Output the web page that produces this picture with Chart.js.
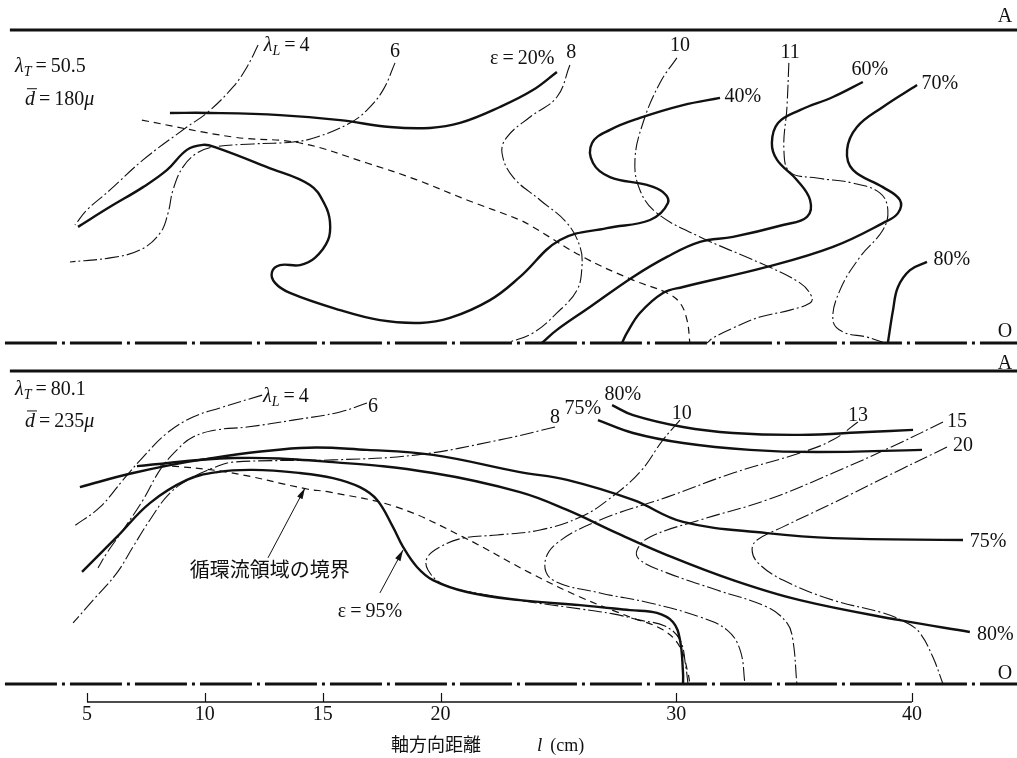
<!DOCTYPE html>
<html>
<head>
<meta charset="utf-8">
<script src="https://cdn.jsdelivr.net/npm/chart.js@4.4.1/dist/chart.umd.min.js"></script>
<style>
  html, body { margin: 0; padding: 0; background: #fff; }
  #wrap { width: 1017px; height: 758px; }
</style>
</head>
<body>
<div id="wrap"><canvas id="c" width="1017" height="758"></canvas></div>
<script>
// Contours in a tube section: x = axial distance l (cm), y = r/R (0 = axis O, 1 = wall A)

const xTicks = [5, 10, 15, 20, 30, 40];

// ---- upper section: lambda_T = 50.5, d = 180 micron ----
const topLam4 = [[12.26,0.952],[11.79,0.882],[11.20,0.818],[10.09,0.735],[9.24,0.690],[7.38,0.585],[5.98,0.489],[5.00,0.425],[4.49,0.377]];
const topLam6 = [[18.07,0.895],[17.56,0.808],[16.88,0.744],[16.16,0.703],[14.76,0.658],[13.74,0.642],[12.04,0.636],[10.35,0.626],[9.67,0.607],[9.07,0.562],[8.65,0.489],[8.44,0.415],[8.10,0.351],[7.25,0.297],[5.98,0.272],[4.28,0.259]];
const topLam8 = [[25.49,0.888],[24.94,0.786],[23.80,0.722],[22.82,0.658],[22.61,0.607],[23.08,0.530],[24.22,0.457],[25.37,0.383],[25.92,0.307],[26.00,0.243],[25.79,0.169],[24.94,0.096],[23.92,0.032],[22.82,0.000]];
const topLam10 = [[30.03,0.911],[29.31,0.831],[28.59,0.703],[28.25,0.585],[28.46,0.489],[29.18,0.415],[31.01,0.339],[33.55,0.256],[35.25,0.192],[35.76,0.147],[35.68,0.128],[34.83,0.105],[33.55,0.083],[32.41,0.048],[31.56,0.016],[31.31,0.000]];
const topLam11 = [[34.78,0.895],[34.70,0.754],[34.57,0.617],[34.83,0.546],[35.97,0.527],[37.50,0.511],[38.65,0.479],[38.98,0.425],[38.77,0.361],[37.80,0.275],[36.95,0.169],[36.65,0.073],[37.08,0.035],[38.09,0.019],[38.86,0.000]];
const topEps20 = [[8.52,0.735],[10.22,0.735],[13.19,0.728],[15.74,0.712],[17.86,0.690],[19.55,0.687],[20.83,0.703],[22.52,0.754],[23.92,0.808],[24.94,0.866]];
const topEps40 = [[4.62,0.371],[5.98,0.435],[7.38,0.498],[8.40,0.553],[9.24,0.617],[9.92,0.633],[10.43,0.626],[12.64,0.562],[14.46,0.505],[15.10,0.441],[15.31,0.387],[15.23,0.329],[14.67,0.272],[14.04,0.249],[13.19,0.249],[12.85,0.227],[12.98,0.192],[13.61,0.160],[15.74,0.105],[17.43,0.073],[19.13,0.064],[20.40,0.080],[22.10,0.137],[23.37,0.211],[25.07,0.329],[27.06,0.367],[28.89,0.393],[29.65,0.447],[29.44,0.482],[28.76,0.505],[27.19,0.530],[26.47,0.575],[26.43,0.639],[27.19,0.681],[28.46,0.719],[30.29,0.760],[31.86,0.783]];
const topEps60 = [[37.92,0.834],[36.65,0.786],[35.25,0.744],[34.32,0.703],[34.06,0.639],[34.28,0.585],[35.12,0.521],[35.68,0.457],[35.55,0.403],[34.53,0.377],[32.41,0.339],[31.01,0.323],[29.61,0.275],[28.17,0.211],[26.34,0.115],[24.94,0.042],[24.30,0.000]];
const topEps70 = [[40.22,0.824],[38.77,0.754],[37.67,0.690],[37.25,0.617],[37.50,0.553],[38.77,0.498],[39.49,0.457],[39.41,0.415],[38.77,0.383],[36.65,0.307],[33.85,0.243],[30.29,0.179],[29.44,0.160],[28.46,0.096],[27.91,0.032],[27.70,0.000]];
const topEps80 = [[40.64,0.259],[39.92,0.233],[39.41,0.179],[39.20,0.105],[38.98,0.000]];
const topBoundary = [[7.33,0.712],[11.20,0.658],[14.04,0.639],[16.88,0.575],[19.00,0.521],[21.12,0.457],[23.37,0.393],[23.92,0.371],[26.04,0.275],[28.17,0.201],[29.61,0.160],[30.16,0.128],[30.46,0.073],[30.58,0.000]];

// ---- lower section: lambda_T = 80.1, d = 235 micron ----
const botLam4 = [[12.43,0.923],[10.64,0.882],[9.50,0.853],[8.40,0.802],[7.38,0.725],[6.53,0.652],[5.55,0.565],[4.41,0.502]];
const botLam6 = [[16.88,0.898],[15.74,0.869],[13.74,0.843],[11.79,0.821],[10.52,0.812],[9.50,0.789],[8.82,0.748],[8.10,0.684],[7.38,0.588],[6.53,0.492],[5.85,0.419],[5.47,0.371]];
const botLam8 = [[24.86,0.821],[22.52,0.780],[19.00,0.732],[15.44,0.716],[11.20,0.709],[10.35,0.690],[9.50,0.661],[8.52,0.610],[7.67,0.524],[6.95,0.438],[6.27,0.355],[5.26,0.268],[4.41,0.195]];
const botLam10 = [[30.16,0.843],[29.44,0.780],[28.46,0.677],[27.10,0.588],[25.96,0.534],[24.22,0.492],[22.40,0.476],[20.95,0.466],[19.98,0.438],[19.43,0.403],[19.47,0.364],[20.11,0.319],[21.67,0.288],[23.80,0.262],[25.92,0.240],[27.32,0.224],[28.46,0.204],[29.52,0.185],[30.16,0.141],[30.41,0.054],[30.50,0.000]];
const botLam13 = [[37.71,0.837],[36.65,0.780],[35.25,0.738],[32.41,0.674],[29.61,0.597],[26.77,0.524],[24.94,0.450],[24.43,0.387],[24.77,0.332],[26.77,0.291],[28.89,0.259],[31.01,0.214],[32.15,0.173],[32.71,0.109],[32.92,0.000]];
const botLam15 = [[41.32,0.837],[39.49,0.770],[36.65,0.674],[33.85,0.588],[31.01,0.524],[28.89,0.470],[28.34,0.428],[28.46,0.396],[29.61,0.355],[31.73,0.300],[33.85,0.246],[34.70,0.195],[34.95,0.141],[35.12,0.000]];
const botLam20 = [[41.49,0.757],[39.49,0.684],[36.65,0.578],[34.53,0.502],[33.43,0.460],[33.22,0.428],[33.47,0.387],[34.53,0.332],[36.65,0.268],[38.77,0.227],[39.79,0.195],[40.34,0.163],[40.89,0.086],[41.32,0.000]];
const botEps75Upper = [[26.68,0.843],[28.17,0.802],[30.29,0.770],[33.13,0.748],[35.97,0.741],[40.43,0.748]];
const botEps80Upper = [[27.28,0.891],[28.17,0.859],[30.29,0.821],[32.41,0.802],[35.25,0.796],[38.09,0.805],[40.05,0.812]];
const botEps75 = [[4.70,0.629],[6.95,0.674],[9.80,0.716],[14.04,0.754],[16.88,0.748],[19.68,0.732],[23.37,0.677],[25.37,0.652],[28.17,0.588],[30.29,0.518],[33.85,0.482],[36.65,0.466],[42.17,0.460]];
const botEps80 = [[7.12,0.696],[11.20,0.722],[15.44,0.709],[19.68,0.674],[23.37,0.613],[25.37,0.556],[27.49,0.482],[29.61,0.412],[32.41,0.332],[35.25,0.268],[39.49,0.204],[42.46,0.166]];
const botEps95 = [[4.79,0.358],[6.27,0.470],[7.67,0.578],[9.24,0.652],[10.52,0.677],[12.04,0.684],[14.04,0.674],[15.44,0.658],[16.58,0.629],[17.31,0.588],[17.98,0.502],[18.41,0.438],[19.00,0.374],[19.68,0.332],[21.12,0.294],[23.37,0.268],[25.92,0.252],[28.04,0.236],[29.18,0.227],[29.86,0.198],[30.16,0.141],[30.29,0.035],[30.29,0.000]];
const botBoundary = [[8.10,0.700],[10.94,0.677],[14.34,0.623],[15.31,0.613],[18.15,0.565],[20.95,0.470],[23.80,0.355],[25.92,0.278],[28.04,0.214],[29.44,0.173],[30.16,0.118],[30.50,0.035],[30.58,0.000]];
const arrowBoundary = [[12.68,0.403],[14.25,0.626]];
const arrowEps95 = [[17.43,0.291],[18.41,0.428]];

// tube wall (A) and centre line (O) span along l
const wallSpan = [1.73, 44.46];
const axisSpan = [1.52, 44.46];

// ---- layout ----
const X_MIN = 1.31, X_MAX = 44.46;
const CHART_BOTTOM = 702;     // px, x-axis line
const PANEL_H = 313;          // px for r/R = 0..1
const TOP_WALL_PX = 30, BOT_WALL_PX = 371;
const ytMax = 1 + TOP_WALL_PX / PANEL_H;
const ybMax = 1 + BOT_WALL_PX / PANEL_H;
const ySpan = CHART_BOTTOM / PANEL_H;

const INK = '#111';
const STYLE = {
  eps:   { borderWidth: 2.4, borderDash: [] },
  lam:   { borderWidth: 1.1, borderDash: [14, 3, 2, 3] },
  bnd:   { borderWidth: 1.2, borderDash: [7, 5] },
  wall:  { borderWidth: 3.2, borderDash: [] },
  axis:  { borderWidth: 3,   borderDash: [52, 5, 3, 5] },
  arrow: { borderWidth: 1,   borderDash: [] }
};

function series(points, yAxisID, kind) {
  const straight = kind === 'wall' || kind === 'axis' || kind === 'arrow';
  return Object.assign({
    data: points.map(([x, y]) => ({ x, y })),
    yAxisID,
    showLine: true,
    borderColor: INK,
    backgroundColor: INK,
    pointRadius: 0,
    fill: false,
    clip: false,
    tension: straight ? 0 : 0.4
  }, STYLE[kind]);
}

const datasets = [
  series([[wallSpan[0], 1], [wallSpan[1], 1]], 'yt', 'wall'),
  series([[axisSpan[0], 0], [axisSpan[1], 0]], 'yt', 'axis'),
  series([[wallSpan[0], 1], [wallSpan[1], 1]], 'yb', 'wall'),
  series([[axisSpan[0], 0], [axisSpan[1], 0]], 'yb', 'axis'),

  series(topLam4, 'yt', 'lam'), series(topLam6, 'yt', 'lam'), series(topLam8, 'yt', 'lam'),
  series(topLam10, 'yt', 'lam'), series(topLam11, 'yt', 'lam'),
  series(topEps20, 'yt', 'eps'), series(topEps40, 'yt', 'eps'), series(topEps60, 'yt', 'eps'),
  series(topEps70, 'yt', 'eps'), series(topEps80, 'yt', 'eps'),
  series(topBoundary, 'yt', 'bnd'),

  series(botLam4, 'yb', 'lam'), series(botLam6, 'yb', 'lam'), series(botLam8, 'yb', 'lam'),
  series(botLam10, 'yb', 'lam'), series(botLam13, 'yb', 'lam'), series(botLam15, 'yb', 'lam'),
  series(botLam20, 'yb', 'lam'),
  series(botEps75Upper, 'yb', 'eps'), series(botEps80Upper, 'yb', 'eps'),
  series(botEps75, 'yb', 'eps'), series(botEps80, 'yb', 'eps'), series(botEps95, 'yb', 'eps'),
  series(botBoundary, 'yb', 'bnd'),
  series(arrowBoundary, 'yb', 'arrow'), series(arrowEps95, 'yb', 'arrow')
];

// ---- text annotations: [markup, l, r/R, align] ; *x* italic, _x_ subscript, ~x~ overbar ----
const topLabels = [
  ['*λ*_T_\u2009=\u200950.5', 1.95, 0.888, 'left'],
  ['~d~\u2009=\u2009180*μ*', 2.37, 0.783, 'left'],
  ['*λ*_L_\u2009=\u20094', 12.50, 0.955, 'left'],
  ['6', 18.07, 0.936, 'center'],
  ['ε\u2009=\u200920%', 22.10, 0.914, 'left'],
  ['8', 25.55, 0.932, 'center'],
  ['10', 30.16, 0.955, 'center'],
  ['11', 34.83, 0.932, 'center'],
  ['40%', 32.83, 0.792, 'center'],
  ['60%', 38.22, 0.879, 'center'],
  ['70%', 41.19, 0.834, 'center'],
  ['80%', 41.70, 0.272, 'center'],
  ['A', 43.95, 1.048, 'center'],
  ['O', 43.95, 0.042, 'center']
];
const botLabels = [
  ['*λ*_T_\u2009=\u200980.1', 1.95, 0.946, 'left'],
  ['~d~\u2009=\u2009235*μ*', 2.37, 0.843, 'left'],
  ['*λ*_L_\u2009=\u20094', 12.47, 0.923, 'left'],
  ['6', 17.14, 0.891, 'center'],
  ['8', 24.86, 0.856, 'center'],
  ['75%', 26.04, 0.885, 'center'],
  ['80%', 27.74, 0.930, 'center'],
  ['10', 30.24, 0.869, 'center'],
  ['13', 37.71, 0.863, 'center'],
  ['15', 41.91, 0.843, 'center'],
  ['20', 42.17, 0.767, 'center'],
  ['75%', 42.46, 0.460, 'left'],
  ['80%', 42.76, 0.163, 'left'],
  ['ε\u2009=\u200995%', 17.01, 0.236, 'center'],
  ['A', 43.95, 1.029, 'center'],
  ['O', 43.95, 0.038, 'center']
];
const cjkLabels = [
  ['循環流領域の境界', 12.76, 0.364, 'center']
];
const arrows = [arrowBoundary, arrowEps95];
const axisTitle = { x: 22.0, parts: ['軸方向距離', 'l', '(cm)'] };

const SERIF = '"Liberation Serif","DejaVu Serif",serif';
const CJK = '"Noto Sans CJK JP","Noto Sans CJK SC",sans-serif';
const FONT_SIZE = 20;

function parseRich(str) {
  const out = [];
  str.split(/(\*[^*]+\*|_[^_]+_|~[^~]+~)/).forEach(p => {
    if (!p) return;
    const m = p[0];
    if (m === '*') out.push({ s: p.slice(1, -1), it: true });
    else if (m === '_') out.push({ s: p.slice(1, -1), it: true, sub: true });
    else if (m === '~') out.push({ s: p.slice(1, -1), it: true, bar: true });
    else out.push({ s: p });
  });
  return out;
}

function drawRich(ctx, segs, px, py, align, size) {
  const fontOf = sg => (sg.it ? 'italic ' : '') + (sg.sub ? Math.round(size * 0.68) : (sg.size || size)) + 'px ' + (sg.cjk ? CJK : SERIF);
  let total = 0;
  segs.forEach(sg => {
    ctx.font = fontOf(sg);
    sg.w = (sg.gap || 0) + ctx.measureText(sg.s).width;
    total += sg.w;
  });
  let cx = align === 'center' ? px - total / 2 : align === 'right' ? px - total : px;
  const base = py + size * 0.34;
  ctx.textBaseline = 'alphabetic';
  ctx.textAlign = 'left';
  segs.forEach(sg => {
    ctx.font = fontOf(sg);
    const x0 = cx + (sg.gap || 0);
    const by = sg.sub ? base + size * 0.2 : base;
    ctx.fillText(sg.s, x0, by);
    if (sg.bar) {
      const w = ctx.measureText(sg.s).width;
      ctx.beginPath();
      ctx.lineWidth = 1;
      ctx.moveTo(x0 + 2, base - size * 0.8);
      ctx.lineTo(x0 + w + 2, base - size * 0.8);
      ctx.stroke();
    }
    cx += sg.w;
  });
}

const annotate = {
  id: 'annotate',
  afterDatasetsDraw(chart) {
    const { ctx, scales } = chart;
    const xs = scales.x;
    ctx.save();
    ctx.fillStyle = INK;
    ctx.strokeStyle = INK;

    // x axis line 5..40 with upward tick marks
    const yAx = chart.chartArea.bottom;
    ctx.lineWidth = 1.6;
    ctx.beginPath();
    ctx.moveTo(xs.getPixelForValue(xTicks[0]), yAx);
    ctx.lineTo(xs.getPixelForValue(xTicks[xTicks.length - 1]), yAx);
    ctx.stroke();
    ctx.lineWidth = 1.2;
    xTicks.forEach(v => {
      const p = Math.round(xs.getPixelForValue(v)) + 0.5;
      ctx.beginPath();
      ctx.moveTo(p, yAx);
      ctx.lineTo(p, yAx - 9);
      ctx.stroke();
    });

    // arrowheads
    arrows.forEach(a => {
      const [x0, y0] = a[0], [x1, y1] = a[1];
      const p0 = { x: xs.getPixelForValue(x0), y: scales.yb.getPixelForValue(y0) };
      const p1 = { x: xs.getPixelForValue(x1), y: scales.yb.getPixelForValue(y1) };
      const ang = Math.atan2(p1.y - p0.y, p1.x - p0.x);
      ctx.beginPath();
      ctx.moveTo(p1.x, p1.y);
      ctx.lineTo(p1.x - 11 * Math.cos(ang) + 3 * Math.sin(ang), p1.y - 11 * Math.sin(ang) - 3 * Math.cos(ang));
      ctx.lineTo(p1.x - 11 * Math.cos(ang) - 3 * Math.sin(ang), p1.y - 11 * Math.sin(ang) + 3 * Math.cos(ang));
      ctx.closePath();
      ctx.fill();
    });

    // labels
    const put = (list, ys, cjk) => list.forEach(([txt, x, y, align]) => {
      const segs = cjk ? [{ s: txt, cjk: true }] : parseRich(txt);
      drawRich(ctx, segs, xs.getPixelForValue(x), ys.getPixelForValue(y), align, FONT_SIZE);
    });
    put(topLabels, scales.yt, false);
    put(botLabels, scales.yb, false);
    put(cjkLabels, scales.yb, true);

    // axis title
    drawRich(ctx, [
      { s: axisTitle.parts[0], cjk: true, size: 18 },
      { s: axisTitle.parts[1], it: true, gap: 56 },
      { s: axisTitle.parts[2], gap: 8, size: 18 }
    ], xs.getPixelForValue(axisTitle.x), yAx + 43, 'center', 19);

    ctx.restore();
  }
};

new Chart(document.getElementById('c'), {
  type: 'scatter',
  data: { datasets },
  options: {
    responsive: false,
    animation: false,
    events: [],
    layout: { padding: 0 },
    plugins: { legend: { display: false }, tooltip: { enabled: false } },
    scales: {
      x: {
        type: 'linear',
        min: X_MIN,
        max: X_MAX,
        afterBuildTicks: s => { s.ticks = xTicks.map(v => ({ value: v })); },
        afterFit: s => { s.height = 758 - CHART_BOTTOM; },
        grid: { display: false, drawTicks: false },
        border: { display: false },
        ticks: {
          color: INK,
          padding: 1,
          autoSkip: false,
          maxRotation: 0,
          font: { family: SERIF, size: 20 }
        }
      },
      yt: { type: 'linear', display: false, min: ytMax - ySpan, max: ytMax },
      yb: { type: 'linear', display: false, min: ybMax - ySpan, max: ybMax }
    }
  },
  plugins: [annotate]
});
</script>
</body>
</html>
